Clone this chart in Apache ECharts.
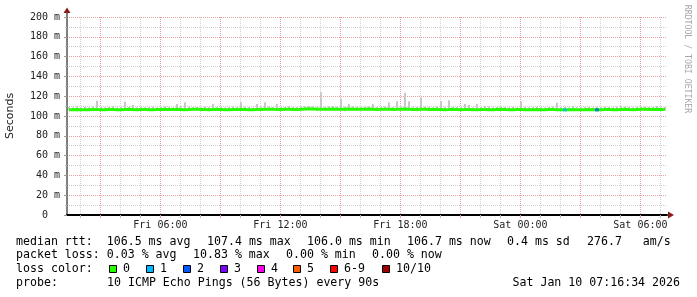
<!DOCTYPE html>
<html><head><meta charset="utf-8">
<script src="https://cdn.jsdelivr.net/npm/echarts@6/dist/echarts.min.js"></script>
<style>html,body{margin:0;padding:0;background:#fff}#c{width:697px;height:297px}</style>
</head><body><div id="c"></div>
<script>
// time window: hours since Fri 00:00
const startHour = 1.33;
const windowHours = 30;
const stepHours = 0.2;

const medianRtt = [
106.4,106.3,106.5,106.4,106.2,106.3,106.5,106.6,106.4,106.3,
106.5,106.6,106.4,106.3,106.5,106.7,106.6,106.4,106.5,106.6,
106.4,106.3,106.5,106.6,106.8,106.6,106.5,106.7,106.6,106.4,
106.5,106.7,106.8,106.6,106.5,106.4,106.6,106.7,106.5,106.3,
106.4,106.6,106.5,106.7,106.6,106.4,106.3,106.5,106.6,106.8,
106.9,106.7,106.6,106.5,106.7,106.8,106.6,106.5,106.7,107.0,
107.2,107.1,106.9,106.8,106.7,106.9,107.0,106.8,106.7,106.9,
107.1,106.9,106.8,106.7,106.9,107.0,106.8,106.6,106.7,106.9,
106.8,106.6,106.7,106.9,107.0,106.8,106.6,106.5,106.7,106.8,
106.6,106.5,106.7,106.6,106.4,106.5,106.7,106.6,106.4,106.5,
106.6,106.4,106.3,106.5,106.6,106.4,106.3,106.5,106.7,106.5,
106.4,106.3,106.5,106.6,106.4,106.2,106.3,106.5,106.4,106.3,
106.5,106.6,106.4,106.3,106.2,106.4,106.5,106.3,106.2,106.4,
106.5,106.3,106.2,106.4,106.6,106.5,106.3,106.4,106.6,106.7,
106.5,106.4,106.6,106.7,106.8,106.6,106.5,106.7,106.6,106.5
];
const smokeHi = [
109.0,108.8,109.4,108.7,109.2,108.9,109.6,115.5,109.1,108.8,
109.3,109.9,108.7,109.2,114.5,109.0,111.0,108.9,109.4,108.8,
109.1,109.7,108.6,109.3,109.8,109.0,108.7,112.0,109.5,114.0,
109.6,108.9,109.2,108.8,109.9,109.1,112.0,108.9,109.3,108.7,
109.0,109.6,108.8,114.0,109.4,109.0,108.7,112.0,109.3,114.0,
109.8,109.1,112.0,109.0,108.8,110.0,109.2,108.9,109.5,109.8,
110.0,109.6,109.2,124.0,109.4,109.9,110.0,109.3,117.5,109.5,
112.0,109.8,109.2,109.0,109.6,109.9,112.0,109.1,109.3,109.7,
114.0,109.2,115.0,109.6,123.5,115.0,109.4,109.0,118.5,109.6,
109.3,108.9,109.5,115.0,109.0,116.0,109.4,109.1,109.0,112.0,
111.0,108.8,112.0,109.2,110.0,109.6,108.9,109.1,109.5,109.0,
108.8,109.3,108.7,115.0,109.2,108.8,109.0,109.4,108.9,108.7,
109.1,109.5,113.5,108.8,109.2,108.9,110.0,108.8,108.6,109.1,
109.3,108.8,109.0,109.2,109.6,109.0,108.8,109.3,110.0,109.4,
109.0,108.9,109.3,109.5,109.7,109.2,109.0,110.0,109.4,109.1
];
const smokeLo = [
105.6,105.4,104.7,105.6,105.5,105.3,105.7,105.5,105.4,105.6,
105.5,105.7,105.4,105.3,105.6,105.8,104.8,105.5,105.6,105.7,
105.4,105.3,105.6,105.7,105.8,105.6,105.5,105.7,105.6,105.4,
105.5,105.7,105.8,105.6,105.5,105.4,105.6,105.7,105.5,105.3,
105.4,105.6,105.5,105.7,105.6,105.4,105.3,105.5,105.6,105.8,
105.9,105.7,105.6,105.5,105.7,105.8,105.6,105.5,105.7,106.0,
106.1,106.0,105.9,105.8,105.7,105.9,106.0,105.8,105.7,104.9,
106.0,105.9,105.8,105.7,105.9,106.0,105.8,105.6,105.7,105.9,
105.8,105.6,105.7,105.9,106.0,105.8,105.6,104.8,105.7,105.8,
105.6,105.5,105.7,105.6,105.4,105.5,105.7,105.6,105.4,105.5,
105.6,105.4,105.3,105.5,105.6,105.4,105.3,105.5,105.7,105.5,
105.4,105.3,105.5,105.6,105.4,105.2,105.3,105.5,105.4,105.3,
105.5,105.6,105.4,105.3,105.2,105.4,105.5,105.3,105.2,105.4,
105.5,105.3,105.2,105.4,105.6,105.5,105.3,105.4,105.6,105.7,
105.5,105.4,105.6,105.7,105.8,105.6,105.5,105.7,105.6,105.5
];
const lossCount = [
0,0,0,0,0,0,0,0,0,0, 0,0,0,0,0,0,0,0,0,0,
0,0,0,0,0,0,0,0,0,0, 0,0,0,0,0,0,0,0,0,0,
0,0,0,0,0,0,0,0,0,0, 0,0,0,0,0,0,0,0,0,0,
0,0,0,0,0,0,0,0,0,0, 0,0,0,0,0,0,0,0,0,0,
0,0,0,0,0,0,0,0,0,0, 0,0,0,0,0,0,0,0,0,0,
0,0,0,0,0,0,0,0,0,0, 0,0,0,0,0,0,0,0,0,0,
0,0,0,0,1,0,0,0,0,0, 0,0,2,0,0,0,0,0,0,0,
0,0,0,0,0,0,0,0,0,0
];

const lossLevels = ['0','1','2','3','4','5','6-9','10/10'];
const lossColors = ['#26ff00','#00b8ff','#0059ff','#7e00ff','#ff00ea','#ff5e00','#ff0000','#a10000'];

const yMin = 0, yMax = 200, yStep = 20;
const xLabelHours = [6, 12, 18, 24, 30];
const xLabelTexts = ['Fri 06:00','Fri 12:00','Fri 18:00','Sat 00:00','Sat 06:00'];
const minorGridHours = [2,4,5,7,8,10,11,13,14,16,17,19,20,22,23,25,26,28,29,31];
const majorGridHours = [3,6,9,12,15,18,21,24,27,30];

const rttLegend = ['median rtt:  106.5 ms avg','107.4 ms max','106.0 ms min','106.7 ms now','0.4 ms sd','276.7   am/s'];
const lossLegend = ['packet loss: 0.03 % avg','10.83 % max','0.00 % min','0.00 % now'];
const probeText = '10 ICMP Echo Pings (56 Bytes) every 90s';
const dateText = 'Sat Jan 10 07:16:34 2026';
const watermark = 'RRDTOOL / TOBI OETIKER';

// ---- build ----
const MONO = 'DejaVu Sans Mono';
const times = medianRtt.map((_, i) => startHour + (i + 0.5) * stepHours);
const smokeData = times.map((t, i) => [t, smokeLo[i], smokeHi[i]]);
const medianData = times.map((t, i) => [t, medianRtt[i]]);
const lossData = times.map((t, i) => [t, medianRtt[i], lossCount[i]]).filter(d => d[2] > 0);
function lossColor(n) { if (n >= 10) return lossColors[7]; if (n >= 6) return lossColors[6]; return lossColors[n]; }

const rttX = [16, 207, 307, 407, 507, 587];
const lossX = [16, 193, 286, 372];
const rowY = [241.7, 255.4, 269.2, 282.8];
const graphics = [];
function txt(x, y, s, extra) {
  graphics.push(Object.assign({type:'text', x:x, y:y, silent:true,
    style:{text:s, font:'11.6px "' + MONO + '"', fill:'#000', align:'left', verticalAlign:'middle'}}, extra||{}));
}
rttLegend.forEach((s, i) => txt(rttX[i], rowY[0], s));
lossLegend.forEach((s, i) => txt(lossX[i], rowY[1], s));
txt(16, rowY[2], 'loss color:');
const sqX = [109, 146, 183, 220, 257, 293, 330, 382];
lossLevels.forEach((s, i) => {
  graphics.push({type:'rect', silent:true, shape:{x:sqX[i]+0.5, y:265.5, width:7, height:7},
    style:{fill:lossColors[i], stroke:'#000', lineWidth:1}});
  txt(sqX[i] + 14, rowY[2], s);
});
txt(16, rowY[3], 'probe:');
txt(107, rowY[3], probeText);
graphics.push({type:'text', x:680, y:rowY[3], silent:true,
  style:{text:dateText, font:'11.6px "' + MONO + '"', fill:'#000', align:'right', verticalAlign:'middle'}});
graphics.push({type:'text', x:687, y:59, rotation:-Math.PI/2, silent:true,
  style:{text:watermark, font:'8.2px "' + MONO + '"', fill:'#a8a8a8', align:'center', verticalAlign:'middle'}});
// axis arrows
graphics.push({type:'rect', silent:true, shape:{x:66, y:12, width:2, height:6}, style:{fill:'#808080'}});
graphics.push({type:'polygon', silent:true, shape:{points:[[63.5,13],[70.5,13],[67,7.5]]}, style:{fill:'#8b1a1a'}});
graphics.push({type:'polygon', silent:true, shape:{points:[[668,211.5],[668,218.5],[674,215]]}, style:{fill:'#8b1a1a'}});

const chart = echarts.init(document.getElementById('c'), null, {renderer:'canvas'});
const xCommon = {type:'value', min:startHour, max:startHour + windowHours, position:'bottom'};
chart.setOption({
  animation:false,
  backgroundColor:'#ffffff',
  grid:{left:67, top:17, width:600, height:198, outerBoundsMode:'none', containLabel:false},
  xAxis:[
    Object.assign({}, xCommon, {
      axisLine:{show:true, lineStyle:{color:'#000', width:2}},
      axisTick:{show:true, customValues:minorGridHours, length:3, inside:false, lineStyle:{color:'#bbbbbb'}},
      axisLabel:{customValues:xLabelHours, margin:5, fontFamily:MONO, fontSize:10, color:'#222',
        formatter:v => { const k = xLabelHours.indexOf(Math.round(v)); return k >= 0 ? xLabelTexts[k] : ''; }},
      splitLine:{show:true, lineStyle:{color:'#d0d0d0', type:[1,1], width:1}}
    }),
    Object.assign({}, xCommon, {
      axisLine:{show:false},
      axisTick:{show:true, customValues:majorGridHours, length:3, lineStyle:{color:'#e8a0a0'}},
      axisLabel:{show:false},
      splitLine:{show:true, lineStyle:{color:'#e8a0a0', type:[1,1], width:1}}
    })
  ],
  yAxis:{
    type:'value', min:yMin, max:yMax, interval:yStep,
    axisLine:{show:true, lineStyle:{color:'#808080', width:2}},
    axisTick:{show:true, length:3, lineStyle:{color:'#999'}},
    minorTick:{show:true, splitNumber:2, length:2, lineStyle:{color:'#bbb'}},
    axisLabel:{fontFamily:MONO, fontSize:10, color:'#222', margin:7,
      formatter:v => v === 0 ? '0  ' : v + ' m'},
    splitLine:{show:true, lineStyle:{color:'#e8a0a0', type:[1,1], width:1}},
    minorSplitLine:{show:true, lineStyle:{color:'#d0d0d0', type:[1,1], width:1}},
    name:'Seconds', nameLocation:'middle', nameGap:51, nameRotate:90,
    nameTextStyle:{fontFamily:'DejaVu Sans', fontSize:11, color:'#222'}
  },
  series:[
    {type:'custom', xAxisIndex:0, yAxisIndex:0, data:smokeData, encode:{x:0, y:[1,2]}, silent:true, z:2,
      renderItem:(params, api) => {
        const top = api.coord([api.value(0), api.value(2)]);
        const bot = api.coord([api.value(0), api.value(1)]);
        return {type:'rect', shape:{x:Math.round(top[0]) - 1, y:top[1], width:2, height:bot[1] - top[1]},
          style:{fill:'#c8c8c8'}};
      }},
    {type:'line', xAxisIndex:0, data:medianData, showSymbol:false, silent:true, z:3,
      lineStyle:{color:'#26ff00', width:3}},
    {type:'scatter', xAxisIndex:0, data:lossData, symbol:'rect', symbolSize:[4,3], silent:true, z:4,
      itemStyle:{color:p => lossColor(p.data[2])}}
  ],
  graphic:graphics
});
</script></body></html>
